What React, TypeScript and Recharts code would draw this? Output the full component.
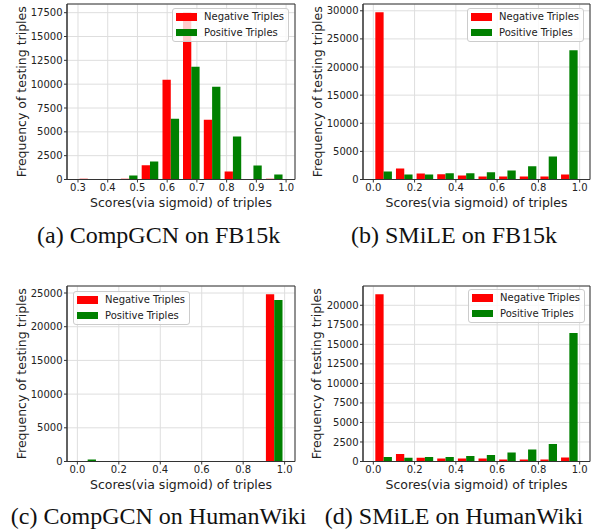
import React from 'react';
import {
  BarChart,
  Bar,
  XAxis,
  YAxis,
  CartesianGrid,
  Legend,
  ReferenceArea,
} from 'recharts';

// histogram bin centres
const binsA = [0.333, 0.403, 0.472, 0.542, 0.612, 0.681, 0.751, 0.821, 0.89, 0.96];
const binsUnit = [0.05, 0.15, 0.25, 0.35, 0.45, 0.55, 0.65, 0.75, 0.85, 0.95];

// (a) CompGCN on FB15k
const negA = [80, 60, 80, 1500, 10460, 17530, 6280, 840, 50, 80];
const posA = [60, 60, 420, 1880, 6380, 11820, 9730, 4500, 1460, 520];
// (b) SMiLE on FB15k
const negB = [29720, 1950, 1060, 940, 700, 530, 530, 530, 530, 880];
const posB = [1415, 884, 884, 1120, 1120, 1297, 1592, 2358, 4068, 23000];
// (c) CompGCN on HumanWiki
const negC = [80, 80, 80, 80, 80, 80, 80, 80, 80, 24800];
const posC = [300, 80, 80, 80, 80, 80, 80, 80, 80, 23960];
// (d) SMiLE on HumanWiki
const negD = [21400, 973, 465, 380, 380, 380, 254, 254, 254, 508];
const posD = [592, 465, 592, 592, 719, 846, 1142, 1523, 2242, 16455];

const xTicksA = [0.3, 0.4, 0.5, 0.6, 0.7, 0.8, 0.9, 1.0];
const xTicksUnit = [0, 0.2, 0.4, 0.6, 0.8, 1.0];
const yTicksA = [0, 2500, 5000, 7500, 10000, 12500, 15000, 17500];
const yTicksB = [0, 5000, 10000, 15000, 20000, 25000, 30000];
const yTicksC = [0, 5000, 10000, 15000, 20000, 25000];
const yTicksD = [0, 2500, 5000, 7500, 10000, 12500, 15000, 17500, 20000];

const captions = [
  '(a) CompGCN on FB15k',
  '(b) SMiLE on FB15k',
  '(c) CompGCN on HumanWiki',
  '(d) SMiLE on HumanWiki',
];

const toRows = (bins: number[], neg: number[], pos: number[]) =>
  bins.map((x, i) => ({ x, neg: neg[i], pos: pos[i] }));

const FONT = 'DejaVu Sans';
const INK = '#222';
const FRAME = '#333';

const LegendBox = (props: any) => (
  <div
    style={{
      width: 117,
      boxSizing: 'border-box',
      border: '1px solid #cccccc',
      borderRadius: 3,
      background: 'rgba(255,255,255,0.8)',
      padding: '0 2px 1px 3px',
      fontFamily: FONT,
      fontSize: 10,
      color: INK,
    }}
  >
    {(props.payload || []).map((item: any) => (
      <div key={item.value} style={{ display: 'flex', alignItems: 'center', height: 15.6 }}>
        <span
          style={{
            display: 'inline-block',
            width: 21,
            height: 7.5,
            background: item.color,
            marginRight: 7,
          }}
        />
        <span style={{ whiteSpace: 'nowrap' }}>{item.value}</span>
      </div>
    ))}
  </div>
);

interface PanelProps {
  data: { x: number; neg: number; pos: number }[];
  xDomain: [number, number];
  xTicks: number[];
  yDomain: [number, number];
  yTicks: number[];
  yWidth: number;
  right: number;
  legend: { left: number; top: number };
  yLabelOffset: number;
}

function Panel({ data, xDomain, xTicks, yDomain, yTicks, yWidth, right, legend, yLabelOffset }: PanelProps) {
  return (
    <BarChart
      width={297}
      height={210}
      data={data}
      margin={{ top: 4, right, bottom: 0, left: 0 }}
      barGap={0}
    >
      <CartesianGrid stroke="#dedede" />
      <XAxis
        dataKey="x"
        type="number"
        domain={xDomain}
        allowDataOverflow
        ticks={xTicks}
        interval={0}
        height={30.5}
        tickFormatter={(v: number) => v.toFixed(1)}
        tick={{ fontSize: 10, fill: INK, fontFamily: FONT }}
        tickSize={3}
        tickMargin={1}
        tickLine={{ stroke: FRAME }}
        axisLine={{ stroke: FRAME }}
        label={{
          value: 'Scores(via sigmoid) of triples',
          position: 'insideBottom',
          offset: 3.5,
          style: { fontSize: 12.5, fill: INK, fontFamily: FONT },
        }}
      />
      <YAxis
        type="number"
        domain={yDomain}
        allowDataOverflow
        ticks={yTicks}
        interval={0}
        width={yWidth}
        tick={{ fontSize: 10, fill: INK, fontFamily: FONT }}
        tickSize={3}
        tickMargin={1.5}
        tickLine={{ stroke: FRAME }}
        axisLine={{ stroke: FRAME }}
        label={{
          value: 'Frequency of testing triples',
          angle: -90,
          position: 'insideLeft',
          offset: yLabelOffset,
          style: { textAnchor: 'middle', fontSize: 12.5, fill: INK, fontFamily: FONT },
        }}
      />
      <Bar dataKey="neg" name="Negative Triples" fill="#ff0000" barSize={8.3} isAnimationActive={false} />
      <Bar dataKey="pos" name="Positive Triples" fill="#008000" barSize={8.3} isAnimationActive={false} />
      <ReferenceArea
        x1={xDomain[0]}
        x2={xDomain[1]}
        y1={yDomain[0]}
        y2={yDomain[1]}
        fill="none"
        fillOpacity={0}
        stroke={FRAME}
        strokeWidth={1}
      />
      <Legend
        layout="vertical"
        align="center"
        verticalAlign="middle"
        wrapperStyle={{ left: legend.left, top: legend.top, width: 117, height: 34 }}
        content={<LegendBox />}
      />
    </BarChart>
  );
}

export default function App() {
  const unitDomain: [number, number] = [-0.05, 1.05];
  return (
    <div
      style={{
        position: 'absolute',
        left: 0,
        top: 0,
        width: 594,
        height: 531,
        background: '#fff',
      }}
    >
      <div style={{ position: 'absolute', left: 0, top: 0 }}>
        <Panel
          data={toRows(binsA, negA, posA)}
          xDomain={[0.263, 1.03]}
          xTicks={xTicksA}
          yDomain={[0, 18410]}
          yTicks={yTicksA}
          yWidth={67}
          right={2}
          legend={{ left: 172, top: 8 }}
          yLabelOffset={21.5}
        />
      </div>
      <div style={{ position: 'absolute', left: 297, top: 0 }}>
        <Panel
          data={toRows(binsUnit, negB, posB)}
          xDomain={unitDomain}
          xTicks={xTicksUnit}
          yDomain={[0, 31206]}
          yTicks={yTicksB}
          yWidth={66}
          right={4}
          legend={{ left: 170, top: 8 }}
          yLabelOffset={20.5}
        />
      </div>
      <div style={{ position: 'absolute', left: 0, top: 281.5 }}>
        <Panel
          data={toRows(binsUnit, negC, posC)}
          xDomain={unitDomain}
          xTicks={xTicksUnit}
          yDomain={[0, 26040]}
          yTicks={yTicksC}
          yWidth={67}
          right={2}
          legend={{ left: 73, top: 9.5 }}
          yLabelOffset={21.5}
        />
      </div>
      <div style={{ position: 'absolute', left: 297, top: 281.5 }}>
        <Panel
          data={toRows(binsUnit, negD, posD)}
          xDomain={unitDomain}
          xTicks={xTicksUnit}
          yDomain={[0, 22470]}
          yTicks={yTicksD}
          yWidth={66}
          right={4}
          legend={{ left: 171, top: 7.5 }}
          yLabelOffset={20}
        />
      </div>
      <svg
        width={594}
        height={531}
        style={{ position: 'absolute', left: 0, top: 0, pointerEvents: 'none' }}
      >
        <g fontFamily="Liberation Serif" fontSize={24} fill="#111" textAnchor="middle">
          <text x={158.7} y={242.8}>{captions[0]}</text>
          <text x={454} y={242.8}>{captions[1]}</text>
          <text x={158.7} y={524.3}>{captions[2]}</text>
          <text x={454} y={524.3}>{captions[3]}</text>
        </g>
      </svg>
    </div>
  );
}
